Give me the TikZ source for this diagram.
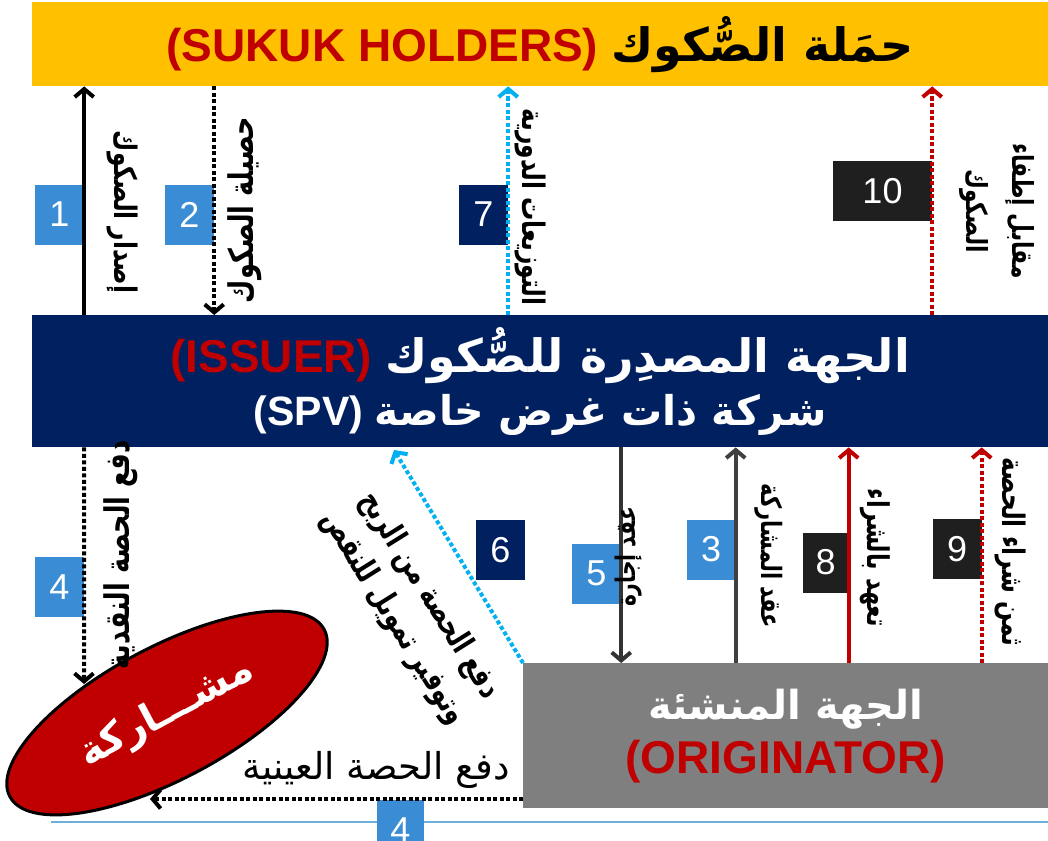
\documentclass[tikz,border=0pt]{standalone}
\usepackage{fontspec}
\setmainfont{Liberation Sans}
\newfontfamily\arabicfont[Script=Arabic]{DejaVu Sans}
\newfontfamily\arabicnarrow[Script=Arabic,FakeStretch=0.75]{DejaVu Sans}
\TeXXeTstate=1
\usetikzlibrary{arrows.meta,positioning,shapes.geometric}

\definecolor{sukukgold}{HTML}{FFC000}
\definecolor{issuernavy}{HTML}{002060}
\definecolor{origgray}{HTML}{7F7F7F}
\definecolor{darkred}{HTML}{C00000}
\definecolor{stepblue}{HTML}{3A8DD4}
\definecolor{skyblue}{HTML}{00B0F0}
\definecolor{lineblue}{HTML}{6CB0DA}
\newcommand{\arabtext}[1]{{\arabicfont\bfseries\beginR #1\endR}}
\newcommand{\arablbl}[1]{{\arabicnarrow\bfseries\beginR #1\endR}}
\newcommand{\fs}[1]{\fontsize{#1}{1.2\dimexpr#1pt\relax}\selectfont}

\begin{document}
\begin{tikzpicture}[x=1pt,y=-1pt,
    band/.style={minimum width=1016pt,anchor=north west,inner sep=0pt,align=center,font=\bfseries},
    numbox/.style={minimum width=49pt,minimum height=60pt,inner sep=0pt,text=white,fill=stepblue,
      font=\fontsize{36}{36}\selectfont},
    lbl/.style={inner sep=0pt,align=center},
    flow/.style={line width=4pt,-{Straight Barb[length=8pt,width=19pt]}},
    dotline/.style={dash pattern=on 4pt off 2.5pt}]
  \clip (0,0) rectangle (1048,840);

  % the three parties
  \node[band,fill=sukukgold,minimum height=84pt] (holders) at (32,2)
    {\fs{46}\textcolor{darkred}{(SUKUK HOLDERS)} \arabtext{حمَلة الصُّكوك}};
  \node[band,fill=issuernavy,minimum height=132pt,text=white] (issuer) at (32,315)
    {{\fs{46}\textcolor{darkred}{(ISSUER)} \arabtext{الجهة المصدِرة للصُّكوك}}\\[10pt]
     {\fs{41}(SPV) \arabtext{شركة ذات غرض خاصة}}};
  \node[band,fill=origgray,minimum width=525pt,minimum height=145pt,text=white] (orig) at (523,663)
    {{\fs{40}\arabtext{الجهة المنشئة}}\\[10pt]
     {\fs{46}\textcolor{darkred}{(ORIGINATOR)}}};
  \node[ellipse,draw,line width=3pt,fill=darkred,text=white,minimum width=356pt,minimum height=132pt,
    rotate=28] (musharaka) at (167,713) {\fs{40}\arabtext{مشـــاركة}};

  \draw[lineblue,line width=2.5pt] (51,822) -- (1048,822);

  % steps
  \node[numbox] (b1) at (59.5,214.5) {1};
  \node[numbox] (b2) at (189.5,214.5) {2};
  \node[numbox,fill=issuernavy] (b7) at (483.5,214.5) {7};
  \node[numbox,fill=black!88,minimum width=99pt] (b10) at (882.5,191) {10};
  \node[numbox] (b4) at (59.5,587) {4};
  \node[numbox,fill=issuernavy] (b6) at (500.5,550) {6};
  \node[numbox] (b5) at (596.5,573.5) {5};
  \node[numbox] (b3) at (711,549.5) {3};
  \node[numbox,fill=black!88,minimum width=46pt] (b8) at (825.5,562.5) {8};
  \node[numbox,fill=black!88] (b9) at (957,549) {9};
  \node[numbox,minimum width=47pt] (b4a) at (400.5,830) {4};

  \coordinate (naqd) at (84,684);
  \coordinate (ribh) at (394,450);
  \coordinate (ayn) at (150,799);

  \draw[flow] (b1.east |- issuer.north) -- (b1.east |- holders.south);
  \draw[flow,dotline] (b2.east |- holders.south) -- (b2.east |- issuer.north);
  \draw[flow,dotline,skyblue] (b7.east |- issuer.north) -- (b7.east |- holders.south);
  \draw[flow,dotline,darkred] (b10.east |- issuer.north) -- (b10.east |- holders.south);
  \draw[flow,dotline] (b4.east |- issuer.south) -- (naqd);
  \draw[flow,dotline,skyblue] (orig.north west) -- (ribh);
  \draw[flow,black!80] (b5.east |- issuer.south) -- (b5.east |- orig.north);
  \draw[flow,black!75,{Straight Barb[length=8pt,width=19pt]}-] (b3.east |- issuer.south) -- (b3.east |- orig.north);
  \draw[flow,darkred] (b8.east |- orig.north) -- (b8.east |- issuer.south);
  \draw[flow,dotline,darkred] (b9.east |- orig.north) -- (b9.east |- issuer.south);
  \draw[flow,dotline] (orig.west |- ayn) -- (ayn);

  % labels
  \node[lbl,rotate=-90,font=\fs{31}] (t1) at (122,212) {\arablbl{إصدار الصكوك}};
  \node[lbl,rotate=90,font=\fs{34}] (t2) at (245,210) {\arablbl{حصيلة الصكوك}};
  \node[lbl,rotate=-90,font=\fs{31}] (t7) at (530,207) {\arablbl{التوزيعات الدورية}};
  \node[lbl,rotate=-90,font=\fs{29}] (t10) at (997,211) {\arablbl{مقابل إطفاء}\\[12pt]\arablbl{الصكوك}};
  \node[lbl,rotate=90,font=\fs{34}] (t4) at (121,555) {\arablbl{دفع الحصة النقدية}};
  \node[lbl,rotate=-58,font=\fs{32}] (t6) at (411,607)
    {\arablbl{دفع الحصة من الربح}\\[4pt]\arablbl{وتوفير تمويل للنقص}};
  \node[lbl,rotate=90,font=\fs{27}] (t5) at (629,557) {\arablbl{عقد إجارة}};
  \node[lbl,rotate=-90,font=\fs{28}] (t3) at (769,556) {\arablbl{عقد المشاركة}};
  \node[lbl,rotate=-90,font=\fs{30}] (t8) at (875,558) {\arablbl{تعهد بالشراء}};
  \node[lbl,rotate=-90,font=\fs{31}] (t9) at (1010,552) {\arablbl{ثمن شراء الحصة}};
  \node[lbl,font=\fs{37}] (t11) at (376,770) {{\arabicfont\beginR دفع الحصة العينية\endR}};
\end{tikzpicture}
\end{document}
